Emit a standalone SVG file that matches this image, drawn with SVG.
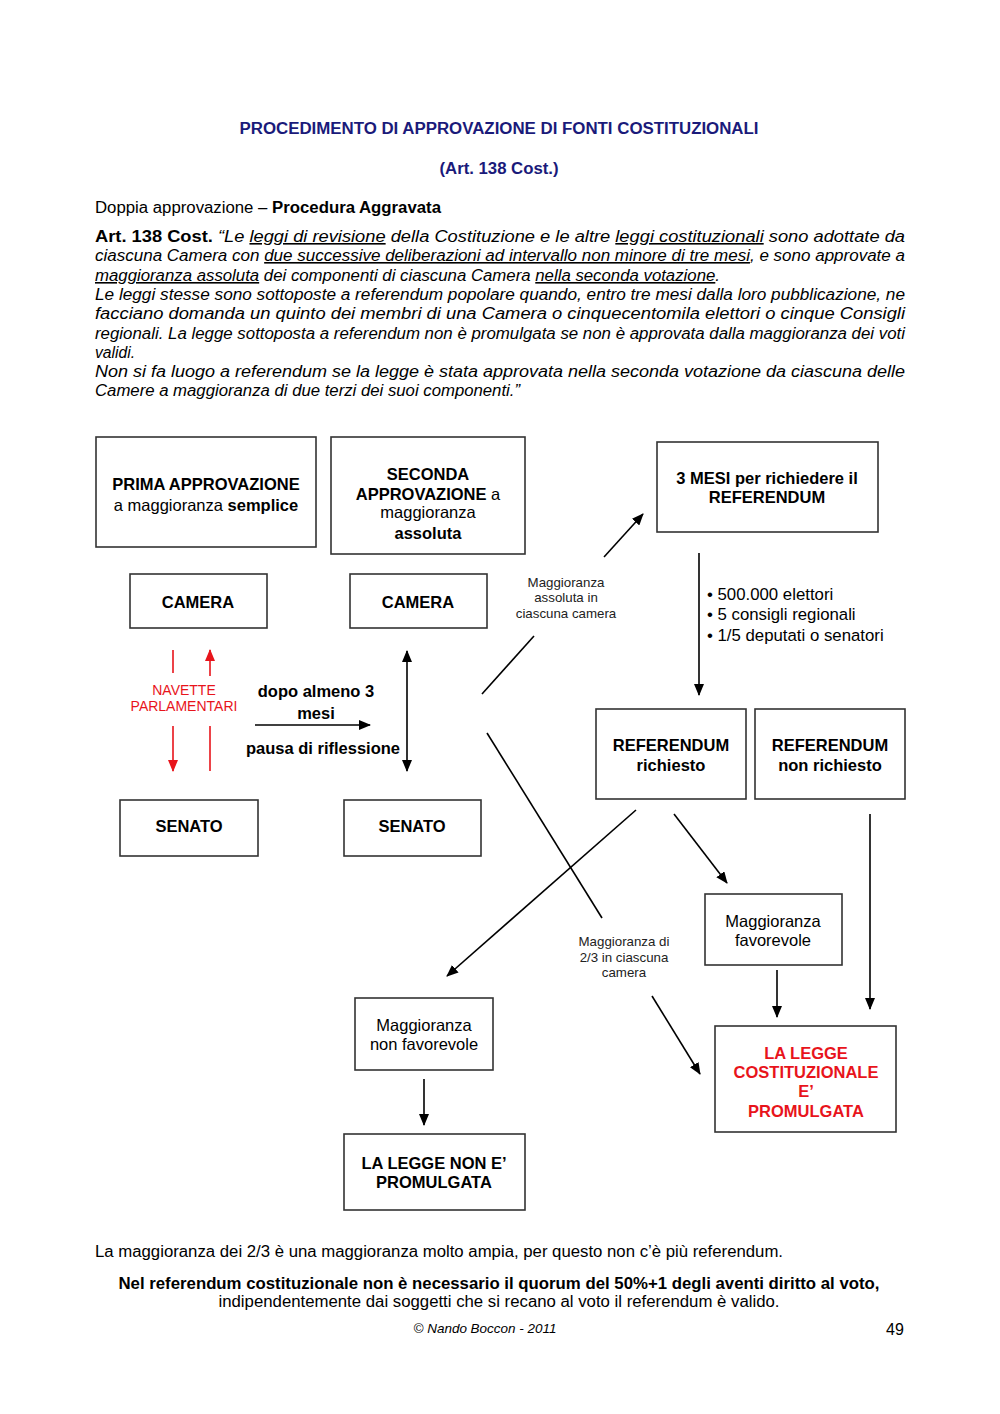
<svg xmlns="http://www.w3.org/2000/svg" width="1000" height="1414" viewBox="0 0 1000 1414">
<style>
.n{font-family:"Liberation Sans Narrow","Liberation Sans",Arial,sans-serif;font-size:16px;fill:#000}
.i{font-style:italic}
.u{text-decoration:underline}
.b{font-weight:bold}
.t{font-family:"Liberation Sans Narrow","Liberation Sans",Arial,sans-serif;font-size:16px;font-weight:bold;fill:#1a1a7a}
.bx{fill:#fff;stroke:#333;stroke-width:1.6}
.h{font-family:"Liberation Sans",Arial,sans-serif;font-size:16.5px;fill:#000;text-anchor:middle}
.s{font-family:"Liberation Sans",Arial,sans-serif;font-size:13.3px;fill:#222;text-anchor:middle}
.red{fill:#e8141b}
.ln{stroke:#000;stroke-width:1.6;fill:none}
.rl{stroke:#e8141b;stroke-width:1.6;fill:none}
</style>
<defs>
<marker id="ah" markerUnits="userSpaceOnUse" markerWidth="12" markerHeight="10" refX="11" refY="5" orient="auto-start-reverse"><path d="M0,0 L12,5 L0,10 Z" fill="#000"/></marker>
<marker id="ahr" markerUnits="userSpaceOnUse" markerWidth="12" markerHeight="10" refX="11" refY="5" orient="auto-start-reverse"><path d="M0,0 L12,5 L0,10 Z" fill="#e8141b"/></marker>
</defs>
<rect width="1000" height="1414" fill="#fff"/>

<g id="header">
<text class="t" x="499" y="134" text-anchor="middle" textLength="519" lengthAdjust="spacingAndGlyphs">PROCEDIMENTO DI APPROVAZIONE DI FONTI COSTITUZIONALI</text>
<text class="t" x="499" y="174" text-anchor="middle" textLength="119" lengthAdjust="spacingAndGlyphs">(Art. 138 Cost.)</text>
<text class="n" x="95" y="213" textLength="346" lengthAdjust="spacingAndGlyphs">Doppia approvazione – <tspan class="b">Procedura Aggravata</tspan></text>
</g>

<g id="article">
<text class="n" x="95" y="242" textLength="810" lengthAdjust="spacingAndGlyphs"><tspan class="b">Art. 138 Cost.</tspan><tspan class="i"> “Le </tspan><tspan class="i u">leggi di revisione</tspan><tspan class="i"> della Costituzione e le altre </tspan><tspan class="i u">leggi costituzionali</tspan><tspan class="i"> sono adottate da</tspan></text>
<text class="n i" x="95" y="261" textLength="810" lengthAdjust="spacingAndGlyphs">ciascuna Camera con <tspan class="u">due successive deliberazioni ad intervallo non minore di tre mesi</tspan>, e sono approvate a</text>
<text class="n i" x="95" y="281" textLength="625" lengthAdjust="spacingAndGlyphs"><tspan class="u">maggioranza assoluta</tspan> dei componenti di ciascuna Camera <tspan class="u">nella seconda votazione</tspan>.</text>
<text class="n i" x="95" y="300" textLength="810" lengthAdjust="spacingAndGlyphs">Le leggi stesse sono sottoposte a referendum popolare quando, entro tre mesi dalla loro pubblicazione, ne</text>
<text class="n i" x="95" y="319" textLength="810" lengthAdjust="spacingAndGlyphs">facciano domanda un quinto dei membri di una Camera o cinquecentomila elettori o cinque Consigli</text>
<text class="n i" x="95" y="339" textLength="810" lengthAdjust="spacingAndGlyphs">regionali. La legge sottoposta a referendum non è promulgata se non è approvata dalla maggioranza dei voti</text>
<text class="n i" x="95" y="358" textLength="40" lengthAdjust="spacingAndGlyphs">validi.</text>
<text class="n i" x="95" y="377" textLength="810" lengthAdjust="spacingAndGlyphs">Non si fa luogo a referendum se la legge è stata approvata nella seconda votazione da ciascuna delle</text>
<text class="n i" x="95" y="396" textLength="425" lengthAdjust="spacingAndGlyphs">Camere a maggioranza di due terzi dei suoi componenti.”</text>
</g>

<g id="connectors">
<line class="rl" x1="173" y1="650" x2="173" y2="673"/>
<line class="rl" x1="173" y1="726" x2="173" y2="771" marker-end="url(#ahr)"/>
<line class="rl" x1="210" y1="676" x2="210" y2="650" marker-end="url(#ahr)"/>
<line class="rl" x1="210" y1="726" x2="210" y2="771"/>
<line class="ln" x1="255" y1="725" x2="370" y2="725" marker-end="url(#ah)"/>
<line class="ln" x1="407" y1="651" x2="407" y2="771" marker-start="url(#ah)" marker-end="url(#ah)"/>
<line class="ln" x1="482" y1="694" x2="534" y2="636"/>
<line class="ln" x1="604" y1="557" x2="643" y2="514" marker-end="url(#ah)"/>
<line class="ln" x1="699" y1="553" x2="699" y2="695" marker-end="url(#ah)"/>
<line class="ln" x1="487" y1="733" x2="602" y2="918"/>
<line class="ln" x1="652" y1="996" x2="700" y2="1074" marker-end="url(#ah)"/>
<line class="ln" x1="636" y1="810" x2="447" y2="976" marker-end="url(#ah)"/>
<line class="ln" x1="674" y1="814" x2="727" y2="883" marker-end="url(#ah)"/>
<line class="ln" x1="777" y1="970" x2="777" y2="1017" marker-end="url(#ah)"/>
<line class="ln" x1="870" y1="814" x2="870" y2="1009" marker-end="url(#ah)"/>
<line class="ln" x1="424" y1="1079" x2="424" y2="1125" marker-end="url(#ah)"/>
</g>

<g id="labels">
<text class="s red" x="184" y="695" style="font-size:14px">NAVETTE</text>
<text class="s red" x="184" y="711" style="font-size:14px">PARLAMENTARI</text>
<text class="h b" x="316" y="697">dopo almeno 3</text>
<text class="h b" x="316" y="719">mesi</text>
<text class="h b" x="323" y="754">pausa di riflessione</text>
<text class="s" x="566" y="587">Maggioranza</text>
<text class="s" x="566" y="602">assoluta in</text>
<text class="s" x="566" y="618">ciascuna camera</text>
<text class="h" x="707" y="600" style="text-anchor:start;font-size:16.8px">• 500.000 elettori</text>
<text class="h" x="707" y="620" style="text-anchor:start;font-size:16.8px">• 5 consigli regionali</text>
<text class="h" x="707" y="641" style="text-anchor:start;font-size:16.8px">• 1/5 deputati o senatori</text>
<text class="s" x="624" y="946">Maggioranza di</text>
<text class="s" x="624" y="962">2/3 in ciascuna</text>
<text class="s" x="624" y="977">camera</text>
</g>

<g id="prima">
<rect class="bx" x="96" y="437" width="220" height="110"/>
<text class="h b" x="206" y="490">PRIMA APPROVAZIONE</text>
<text class="h" x="206" y="511">a maggioranza <tspan class="b">semplice</tspan></text>
</g>
<g id="seconda">
<rect class="bx" x="331" y="437" width="194" height="117"/>
<text class="h" x="428" y="480"><tspan class="b">SECONDA</tspan></text>
<text class="h" x="428" y="500"><tspan class="b">APPROVAZIONE</tspan> a</text>
<text class="h" x="428" y="518">maggioranza</text>
<text class="h b" x="428" y="539">assoluta</text>
</g>
<g id="camera1">
<rect class="bx" x="130" y="574" width="137" height="54"/>
<text class="h b" x="198" y="608">CAMERA</text>
</g>
<g id="camera2">
<rect class="bx" x="350" y="574" width="137" height="54"/>
<text class="h b" x="418" y="608">CAMERA</text>
</g>
<g id="senato1">
<rect class="bx" x="120" y="800" width="138" height="56"/>
<text class="h b" x="189" y="832">SENATO</text>
</g>
<g id="senato2">
<rect class="bx" x="344" y="800" width="137" height="56"/>
<text class="h b" x="412" y="832">SENATO</text>
</g>
<g id="tremesi">
<rect class="bx" x="657" y="442" width="221" height="90"/>
<text class="h b" x="767" y="484">3 MESI per richiedere il</text>
<text class="h b" x="767" y="503">REFERENDUM</text>
</g>
<g id="refrichiesto">
<rect class="bx" x="596" y="709" width="150" height="90"/>
<text class="h b" x="671" y="751">REFERENDUM</text>
<text class="h b" x="671" y="771">richiesto</text>
</g>
<g id="refnonrichiesto">
<rect class="bx" x="755" y="709" width="150" height="90"/>
<text class="h b" x="830" y="751">REFERENDUM</text>
<text class="h b" x="830" y="771">non richiesto</text>
</g>
<g id="favorevole">
<rect class="bx" x="705" y="894" width="137" height="71"/>
<text class="h" x="773" y="927">Maggioranza</text>
<text class="h" x="773" y="946">favorevole</text>
</g>
<g id="promulgata">
<rect class="bx" x="715" y="1026" width="181" height="106"/>
<text class="h b red" x="806" y="1059">LA LEGGE</text>
<text class="h b red" x="806" y="1078">COSTITUZIONALE</text>
<text class="h b red" x="806" y="1097">E’</text>
<text class="h b red" x="806" y="1117">PROMULGATA</text>
</g>
<g id="nonfavorevole">
<rect class="bx" x="355" y="998" width="138" height="72"/>
<text class="h" x="424" y="1031">Maggioranza</text>
<text class="h" x="424" y="1050">non favorevole</text>
</g>
<g id="nonpromulgata">
<rect class="bx" x="344" y="1134" width="181" height="76"/>
<text class="h b" x="434" y="1169">LA LEGGE NON E’</text>
<text class="h b" x="434" y="1188">PROMULGATA</text>
</g>

<g id="footer">
<text class="n" x="95" y="1257" textLength="688" lengthAdjust="spacingAndGlyphs">La maggioranza dei 2/3 è una maggioranza molto ampia, per questo non c’è più referendum.</text>
<text class="n b" x="499" y="1289" text-anchor="middle" textLength="761" lengthAdjust="spacingAndGlyphs">Nel referendum costituzionale non è necessario il quorum del 50%+1 degli aventi diritto al voto,</text>
<text class="n" x="499" y="1307" text-anchor="middle" textLength="561" lengthAdjust="spacingAndGlyphs">indipendentemente dai soggetti che si recano al voto il referendum è valido.</text>
<text class="n i" x="485" y="1333" text-anchor="middle" style="font-size:13px" textLength="143" lengthAdjust="spacingAndGlyphs">© Nando Boccon - 2011</text>
<text class="n" x="895" y="1335" text-anchor="middle" style="font-size:16px">49</text>
</g>
</svg>
